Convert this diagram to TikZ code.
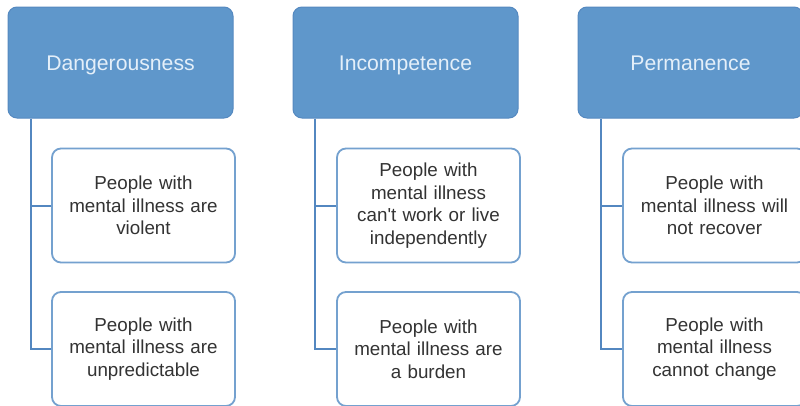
\documentclass[tikz,border=0pt]{standalone}
\usepackage{fontspec}
\setmainfont{Liberation Sans}[Ligatures=TeXOff]
\definecolor{topfill}{HTML}{5F97CB}
\definecolor{topdraw}{HTML}{5589C0}
\definecolor{toptext}{HTML}{E4EFF9}
\definecolor{childdraw}{HTML}{74A1CF}
\definecolor{childtext}{HTML}{333333}
\definecolor{connc}{HTML}{5387C0}
\begin{document}
\begin{tikzpicture}[x=1pt,y=-1pt,
  topbox/.style={draw=topdraw, fill=topfill, line width=1pt, rounded corners=9pt,
    minimum width=225pt, minimum height=111pt, inner sep=0pt,
    text height=15.8pt, text depth=0pt,
    text=toptext, font=\fontsize{21.2}{25}\selectfont},
  childbox/.style={draw=childdraw, fill=white, line width=1.8pt, rounded corners=9pt,
    minimum width=183pt, minimum height=114pt, inner sep=0pt, align=center,
    text width=172pt, text=childtext, font=\fontsize{18.8}{22.5}\selectfont},
  conn/.style={draw=connc, line width=2pt}]
\useasboundingbox (0,0) rectangle (800,405);
\clip (0,0) rectangle (800,405);
\fill[white] (0,0) rectangle (800,405);
% column 1
\node[topbox] (t1) at (120.5,62.5) {Dangerousness};
\node[childbox] (c1a) at (143.5,205.5) {People with\\mental illness are\\violent};
\node[childbox] (c1b) at (143.5,349) {People with\\mental illness are\\unpredictable};
% column 2
\node[topbox] (t2) at (405.5,62.5) {Incompetence};
\node[childbox] (c2a) at (428.5,205.5) {People with\\mental illness\\can't work or live\\independently};
\node[childbox] (c2b) at (428.5,349) {People with\\mental illness are\\a burden};
% column 3
\node[topbox] (t3) at (690.5,62.5) {Permanence};
\node[childbox] (c3a) at (714.5,205.5) {People with\\mental illness will\\not recover};
\node[childbox] (c3b) at (714.5,349) {People with\\mental illness\\cannot change};
% connectors
\draw[conn] ([xshift=23pt]t1.south west) |- (c1b.west);
\draw[conn] (c1a.west) -- ++(-21,0);
\draw[conn] ([xshift=22pt]t2.south west) |- (c2b.west);
\draw[conn] (c2a.west) -- ++(-21,0);
\draw[conn] ([xshift=23pt]t3.south west) |- (c3b.west);
\draw[conn] (c3a.west) -- ++(-22,0);
\end{tikzpicture}
\end{document}
